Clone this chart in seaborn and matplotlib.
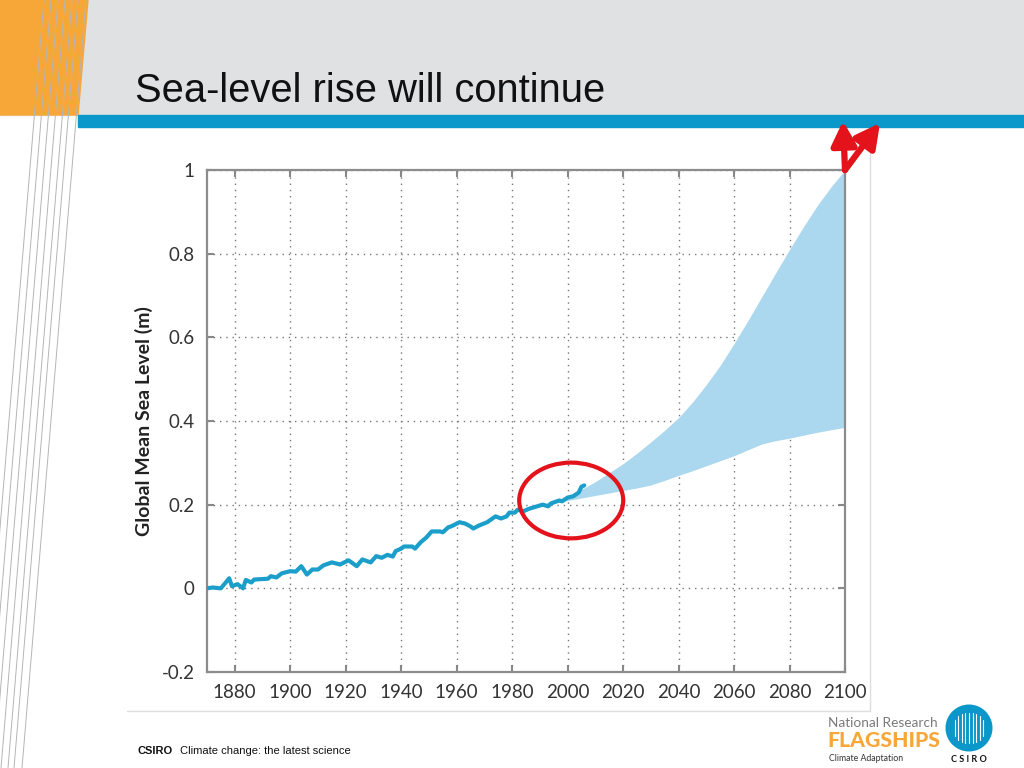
import numpy as np
import pandas as pd
import seaborn as sns
import matplotlib.pyplot as plt
from matplotlib.lines import Line2D
from matplotlib.patches import Polygon, Rectangle, Ellipse, Circle

obs_years = [1870, 1872, 1875, 1878, 1879, 1881, 1883, 1884, 1886, 1887,
             1892, 1893, 1895, 1897, 1900, 1902, 1904, 1906, 1908, 1910,
             1912, 1915, 1918, 1921, 1924, 1926, 1929, 1931, 1933, 1935,
             1937, 1938, 1940, 1941, 1944, 1945, 1947, 1949, 1951, 1954,
             1955, 1957, 1958, 1961, 1963, 1965, 1966, 1968, 1971, 1974,
             1976, 1978, 1979, 1981, 1982, 1984, 1986, 1989, 1991, 1993,
             1994, 1997, 1998, 2000, 2002, 2004, 2005, 2006]
obs_level = [0.000, 0.002, 0.000, 0.024, 0.005, 0.010, 0.000, 0.020, 0.014, 0.021,
             0.023, 0.029, 0.026, 0.036, 0.041, 0.040, 0.053, 0.033, 0.045, 0.045,
             0.055, 0.062, 0.057, 0.067, 0.053, 0.069, 0.062, 0.077, 0.073, 0.080,
             0.076, 0.089, 0.095, 0.100, 0.100, 0.095, 0.110, 0.121, 0.136, 0.136,
             0.134, 0.146, 0.148, 0.158, 0.155, 0.148, 0.143, 0.150, 0.158, 0.172,
             0.167, 0.172, 0.181, 0.181, 0.188, 0.184, 0.190, 0.196, 0.200, 0.196,
             0.203, 0.210, 0.208, 0.217, 0.220, 0.229, 0.243, 0.246]

# projected range
proj_years = [1990, 2000, 2010, 2020, 2025, 2030, 2035, 2040, 2045, 2050, 2055,
              2060, 2065, 2070, 2075, 2080, 2085, 2090, 2095, 2100]
proj_low = [0.198, 0.210, 0.222, 0.234, 0.240, 0.247, 0.258, 0.270, 0.281, 0.293, 0.305,
            0.317, 0.331, 0.345, 0.353, 0.359, 0.366, 0.373, 0.379, 0.385]
proj_high = [0.200, 0.218, 0.255, 0.298, 0.323, 0.350, 0.378, 0.408, 0.445, 0.487, 0.533,
             0.585, 0.640, 0.697, 0.754, 0.810, 0.864, 0.915, 0.960, 1.000]

x_ticks = [1880, 1900, 1920, 1940, 1960, 1980, 2000, 2020, 2040, 2060, 2080, 2100]
y_ticks = [-0.2, 0, 0.2, 0.4, 0.6, 0.8, 1]
y_tick_labels = ["-0.2", "0", "0.2", "0.4", "0.6", "0.8", "1"]

df = pd.DataFrame({"year": obs_years, "level": obs_level})

sns.set_theme(style="white")
plt.rcParams["font.family"] = ["Lato", "DejaVu Sans"]

W, H = 1024, 768
fig = plt.figure(figsize=(10.24, 7.68), dpi=100)

def fx(px):
    return px / W

def fy(py):
    return 1 - py / H

# slide decoration
fig.add_artist(Rectangle((0, fy(115)), 1, 115 / H, transform=fig.transFigure,
                         color="#e0e1e3", zorder=0))
fig.add_artist(Polygon([(0, 1), (fx(88), 1), (fx(78), fy(115)), (0, fy(115))],
                       closed=True, transform=fig.transFigure, color="#f7a738", zorder=1))
fig.add_artist(Rectangle((fx(78), fy(127)), 1, 12 / H, transform=fig.transFigure,
                         color="#0a97c9", zorder=1))
for top_x in [44, 51, 58, 65, 72, 78, 86]:
    fig.add_artist(Line2D([fx(top_x), fx(top_x - 64)], [1, 0], transform=fig.transFigure,
                          color="#b5b5b5", lw=0.7, zorder=2))

# chart panel border
fig.add_artist(Line2D([fx(127), fx(870)], [fy(711), fy(711)], transform=fig.transFigure,
                      color="#dedede", lw=1))
fig.add_artist(Line2D([fx(870), fx(870)], [fy(128), fy(711)], transform=fig.transFigure,
                      color="#dedede", lw=1))

fig.text(fx(135), fy(102), "Sea-level rise will continue", fontsize=28.7,
         family="Liberation Sans", color="#111111", va="baseline")

ax = fig.add_axes([fx(207), fy(672), fx(845) - fx(207), (672 - 170) / H])
ax.set_zorder(5)
ax.fill_between(proj_years, proj_low, proj_high, color="#acd8ef", lw=0, zorder=1)
sns.lineplot(data=df, x="year", y="level", ax=ax, color="#1b9fca", lw=3, zorder=3)

ax.set_xlim(1870, 2100)
ax.set_ylim(-0.2, 1.0)
ax.set_xticks(x_ticks)
ax.set_yticks(y_ticks)
ax.set_yticklabels(y_tick_labels)
ax.grid(True, color="#777777", linestyle=(0, (1, 3.5)), lw=1)
ax.tick_params(direction="in", length=5, width=1.5, color="#888888",
               labelsize=13.5, labelcolor="#333333", pad=9,
               top=True, right=True, bottom=True, left=True)
for s in ax.spines.values():
    s.set_color("#8c8c8c")
    s.set_linewidth(1.6)
ax.set_xlabel("")
ax.set_ylabel("Global Mean Sea Level (m)", fontsize=14, fontweight="bold",
              color="#222222", labelpad=6)

# red highlight around recent observations
ax.add_patch(Ellipse((2001.3, 0.21), 37.5, 0.181, fill=False, ec="#e3121b", lw=3, zorder=5))

# arrows pointing off the top of the projection
for tip in [(843, 768 - 121), (880, 768 - 123)]:
    ax.annotate("", xy=tip, xycoords="figure pixels", xytext=(2100, 1.0),
                textcoords="data", annotation_clip=False,
                arrowprops=dict(arrowstyle="-|>,head_length=0.8,head_width=0.42",
                                color="#e3121b", lw=4.5,
                                mutation_scale=18, shrinkA=0, shrinkB=0))

# footer
fig.text(fx(138), fy(754), "CSIRO", fontsize=8, fontweight="bold",
         family="Liberation Sans", color="#111111")
fig.text(fx(180), fy(754), "Climate change: the latest science", fontsize=8,
         family="Liberation Sans", color="#111111")

# logo
fig.text(fx(828), fy(727), "National Research", fontsize=9.8, color="#7a7a7a")
fig.text(fx(827), fy(747), "FLAGSHIPS", fontsize=15.2, fontweight="black",
         color="#f7a738")
fig.text(fx(829), fy(761), "Climate Adaptation", fontsize=6.3, color="#333333")
logo_ax = fig.add_axes([fx(945), fy(752), 48 / W, 48 / H])
logo_ax.set_xlim(-1, 1)
logo_ax.set_ylim(-1, 1)
logo_ax.set_aspect("equal")
logo_ax.axis("off")
logo_ax.add_patch(Circle((0, 0), 0.95, color="#0a97c9"))
for xs in np.arange(-0.6, 0.7, 0.15):
    h = np.sqrt(max(0.0, 0.5 - xs ** 2)) * 0.9
    logo_ax.plot([xs, xs], [-h, h], color="white", lw=0.8)
fig.text(fx(969), fy(762), "C S I R O", fontsize=6.5, fontweight="bold",
         color="#111111", ha="center")

fig.savefig("out.png", dpi=100)
